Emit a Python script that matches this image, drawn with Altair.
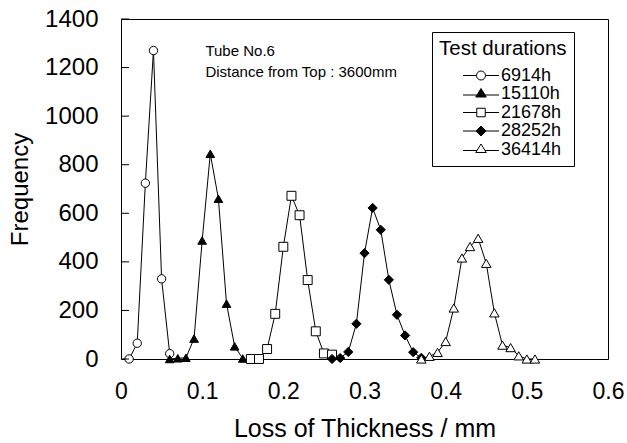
import altair as alt
import pandas as pd

# ---- data ----
series_names = ["6914h", "15110h", "21678h", "28252h", "36414h"]

x_6914 = [0.01, 0.02, 0.03, 0.04, 0.05, 0.06]
f_6914 = [0, 65, 724, 1270, 330, 22]

x_15110 = [0.06, 0.07, 0.08, 0.09, 0.10, 0.11, 0.12, 0.13, 0.14, 0.15]
f_15110 = [0, 3, 5, 84, 488, 845, 660, 228, 52, 2]

x_21678 = [0.16, 0.17, 0.18, 0.19, 0.20, 0.21, 0.22, 0.23, 0.24, 0.25, 0.26]
f_21678 = [0, 0, 41, 186, 462, 672, 592, 325, 114, 23, 18]

x_28252 = [0.26, 0.27, 0.28, 0.29, 0.30, 0.31, 0.32, 0.33, 0.34, 0.35, 0.36, 0.37]
f_28252 = [0, 4, 29, 145, 436, 622, 532, 326, 182, 97, 28, 5]

x_36414 = [0.37, 0.38, 0.39, 0.40, 0.41, 0.42, 0.43, 0.44, 0.45, 0.46, 0.47, 0.48, 0.49, 0.50, 0.51]
f_36414 = [0, 11, 27, 72, 210, 416, 463, 497, 394, 190, 57, 47, 13, 0, 0]

y_ticks = [0, 200, 400, 600, 800, 1000, 1200, 1400]
x_ticks = [0, 0.1, 0.2, 0.3, 0.4, 0.5, 0.6]

note_text = ["Tube No.6", "Distance from Top : 3600mm"]
note_x = [0.104, 0.104]
note_y = [1269, 1180]

# ---- build table ----
rows = []
for name, xs, fs in zip(series_names,
                        [x_6914, x_15110, x_21678, x_28252, x_36414],
                        [f_6914, f_15110, f_21678, f_28252, f_36414]):
    for xv, fv in zip(xs, fs):
        rows.append({"series": name, "x": xv, "f": fv})
df = pd.DataFrame(rows)

FONT = "Liberation Sans"

xscale = alt.Scale(domain=[0, 0.6], nice=False, zero=False)
yscale = alt.Scale(domain=[0, 1400], nice=False)

shape_range = ["circle", "triangle-up", "square", "diamond", "triangle-up"]
fill_range = ["white", "black", "white", "black", "white"]
stroke_range = ["black"] * 5
size_range = [70, 90, 78, 90, 90]

# legend symbols: marker with line stubs (1 unit = 5 px for symbol size 100)
p_circle = "M-3.6,0H-0.9M0.9,0H3.6M-0.9,0A0.9,0.9,0,1,1,0.9,0A0.9,0.9,0,1,1,-0.9,0Z"
p_tri = "M-3.6,0.2H-0.8M0.8,0.2H3.6M0,-1.1L1.05,0.6L-1.05,0.6Z"
p_square = "M-3.6,0H-0.85M0.85,0H3.6M-0.85,-0.85H0.85V0.85H-0.85Z"
p_diamond = "M-3.6,0H-1M1,0H3.6M-1,0L0,-1L1,0L0,1Z"
legend_shapes = [p_circle, p_tri, p_square, p_diamond, p_tri]

base = alt.Chart(df)

lines = base.mark_line(color="black", strokeWidth=1).encode(
    x=alt.X("x:Q", scale=xscale,
            axis=alt.Axis(values=x_ticks, title="Loss of Thickness / mm", format=".1~f",
                          ticks=False, tickSize=0, domain=False, grid=False,
                          labelFontSize=23, labelFont=FONT, labelColor="black",
                          labelPadding=21, labelFlush=False,
                          titleFontSize=25, titleFont=FONT, titleFontWeight="normal",
                          titleColor="black", titlePadding=13)),
    y=alt.Y("f:Q", scale=yscale,
            axis=alt.Axis(values=y_ticks, title="Frequency", format="d",
                          ticks=False, tickSize=0, domain=False, grid=False,
                          labelFontSize=24, labelFont=FONT, labelColor="black",
                          labelPadding=23, labelFlush=False,
                          titleFontSize=24, titleFont=FONT, titleFontWeight="normal",
                          titleColor="black", titlePadding=12)),
    detail="series:N",
    order="x:Q",
)

points = base.mark_point(stroke="black", strokeWidth=1, opacity=1, filled=False).encode(
    x=alt.X("x:Q", scale=xscale),
    y=alt.Y("f:Q", scale=yscale),
    shape=alt.Shape("series:N", scale=alt.Scale(domain=series_names, range=shape_range),
                    legend=None),
    fill=alt.Fill("series:N", scale=alt.Scale(domain=series_names, range=fill_range),
                  legend=None),
    size=alt.Size("series:N", scale=alt.Scale(domain=series_names, range=size_range),
                  legend=None),
)

leg_props = dict(
    title="Test durations", orient="none",
    legendX=311, legendY=13,
    titleFont=FONT, titleFontSize=20.5, titleFontWeight="normal",
    titleColor="black", titlePadding=7,
    labelFont=FONT, labelFontSize=18, labelColor="black",
    labelExpr="datum.label + '\u00a0\u00a0\u00a0\u00a0'",
    symbolSize=100, symbolOffset=33, labelOffset=11,
    symbolOpacity=1, symbolStrokeWidth=1,
    rowPadding=0.5,
    strokeColor="black", fillColor="white", padding=7,
    cornerRadius=0,
)

# legend-only layer: no rows drawn (domain is explicit), it only carries the legend
legend_layer = base.transform_filter("datum.f < 0").mark_point(
    strokeWidth=1, filled=False
).encode(
    x=alt.X("x:Q", scale=xscale),
    y=alt.Y("f:Q", scale=yscale),
    shape=alt.Shape("series:N", scale=alt.Scale(domain=series_names, range=legend_shapes),
                    legend=alt.Legend(**leg_props)),
    fill=alt.Fill("series:N", scale=alt.Scale(domain=series_names, range=fill_range),
                  legend=alt.Legend(**leg_props)),
    stroke=alt.Stroke("series:N", scale=alt.Scale(domain=series_names, range=stroke_range),
                      legend=alt.Legend(**leg_props)),
)

tick_df = pd.DataFrame({"v": y_ticks})
yticks = alt.Chart(tick_df).mark_rule(color="black", strokeWidth=1).encode(
    y=alt.Y("v:Q", scale=yscale),
    x=alt.value(0),
    x2=alt.value(8),
)

note_df = pd.DataFrame({"t": note_text, "x": note_x, "y": note_y})
notes = alt.Chart(note_df).mark_text(align="left", baseline="middle", font=FONT,
                                     fontSize=15, color="black").encode(
    x=alt.X("x:Q", scale=xscale),
    y=alt.Y("y:Q", scale=yscale),
    text="t:N",
)

chart = alt.layer(lines, points, legend_layer, yticks, notes).resolve_scale(
    shape="independent", fill="independent", size="independent", stroke="independent"
).properties(
    width=487, height=340,
    autosize=alt.AutoSizeParams(type="none"),
    padding={"left": 121, "top": 19, "right": 19, "bottom": 84},
    background="white",
).configure_view(
    stroke="black", strokeWidth=1, fill="white"
)

chart.save("out.html", embed_options={"renderer": "svg", "actions": False})
